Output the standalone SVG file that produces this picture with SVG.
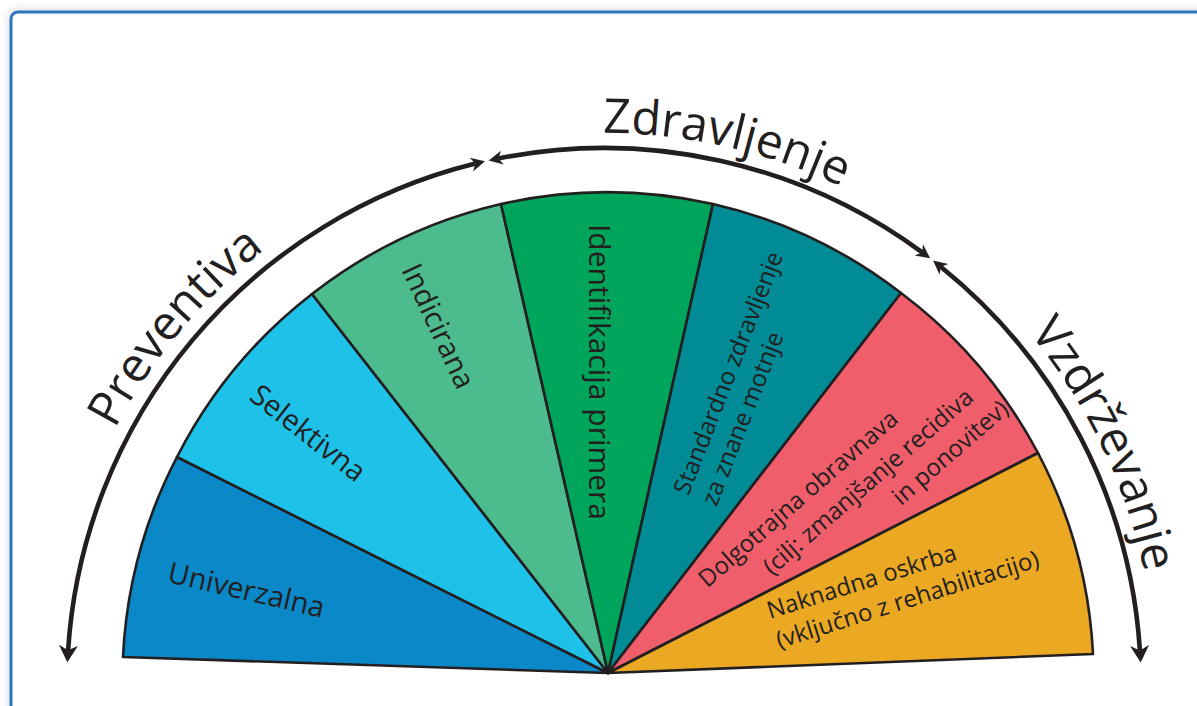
<svg xmlns="http://www.w3.org/2000/svg" width="1197" height="706" viewBox="0 0 1197 706">
  <defs>
    <style>
      .w { stroke: #231f20; stroke-width: 2.6; stroke-linejoin: round; }
      .lbl { font-family: "Open Sans", "Noto Sans", sans-serif; fill: #231f20; }
      .big { font-size: 29px; }
      .sm { font-size: 24px; }
      .phase { font-family: "Open Sans", "Noto Sans", sans-serif; font-size: 48px; fill: #231f20; }
      .arc { fill: none; stroke: #231f20; stroke-width: 4.6; }
    </style>
    <marker id="headEnd" markerUnits="userSpaceOnUse" orient="auto-start-reverse" refX="0" refY="0" markerWidth="40" markerHeight="40" overflow="visible">
      <path d="M-5,-9.5 L12,0 L-5,9.5 L0,0 Z" fill="#231f20"/>
    </marker>
    <marker id="headJ" markerUnits="userSpaceOnUse" orient="auto-start-reverse" refX="0" refY="0" markerWidth="40" markerHeight="40" overflow="visible">
      <path d="M-4.2,-7 L9.8,0 L-4.2,7 L0,0 Z" fill="#231f20"/>
    </marker>
    <filter id="sh" x="-5%" y="-5%" width="110%" height="110%">
      <feGaussianBlur stdDeviation="4"/>
    </filter>
    <path id="tp" d="M52,685 A552,552 0 0 1 1156,685"/>
  </defs>

  <rect x="0" y="0" width="1197" height="706" fill="#ffffff"/>
  <rect x="11" y="12" width="1220" height="740" rx="7" fill="none" stroke="#d9d9d9" stroke-width="6" filter="url(#sh)"/>
  <rect x="11" y="12" width="1220" height="740" rx="7" fill="#ffffff" stroke="#2e76bf" stroke-width="3"/>

  <g id="univerzalna">
    <path class="w" fill="#0a88c8" d="M608,673 L123,657 A484,484 0 0 1 177,457 Z"/>
    <text class="lbl big" x="244.2" y="599.8" text-anchor="middle" transform="rotate(13 244.2 599.8)">Univerzalna</text>
  </g>
  <g id="selektivna">
    <path class="w" fill="#1ec1e7" d="M608,673 L177,457 A484,484 0 0 1 312,294 Z"/>
    <text class="lbl big" x="302" y="441" text-anchor="middle" transform="rotate(38 302 441)">Selektivna</text>
  </g>
  <g id="indicirana">
    <path class="w" fill="#4cbb8e" d="M608,673 L312,294 A484,484 0 0 1 501,204 Z"/>
    <text class="lbl big" x="429.3" y="330.4" text-anchor="middle" transform="rotate(65 429.3 330.4)">Indicirana</text>
  </g>
  <g id="identifikacija">
    <path class="w" fill="#00a55c" d="M608,673 L501,204 A484,484 0 0 1 713,204 Z"/>
    <text class="lbl" font-size="30" x="589" y="372" text-anchor="middle" transform="rotate(90 589 372)">Identifikacija primera</text>
  </g>
  <g id="standardno">
    <path class="w" fill="#008b96" d="M608,673 L713,204 A484,484 0 0 1 901,293 Z"/>
    <g transform="translate(688.5,496.2) rotate(-68.5)">
      <text class="lbl sm" x="0" y="0">Standardno zdravljenje</text>
      <text class="lbl sm" x="0" y="30">za znane motnje</text>
    </g>
  </g>
  <g id="dolgotrajna">
    <path class="w" fill="#ef5e6a" d="M608,673 L901,293 A484,484 0 0 1 1038,453 Z"/>
    <text class="lbl sm" x="803.6" y="504.8" text-anchor="middle" transform="rotate(-41 803.6 504.8)">Dolgotrajna obravnava</text>
    <text class="lbl sm" x="873.6" y="487.8" text-anchor="middle" transform="rotate(-41 873.6 487.8)">(cilj: zmanjšanje recidiva</text>
    <text class="lbl sm" x="955.6" y="458.8" text-anchor="middle" transform="rotate(-41 955.6 458.8)">in ponovitev)</text>
  </g>
  <g id="naknadna">
    <path class="w" fill="#eaa823" d="M608,673 L1038,453 A484,484 0 0 1 1093,654 Z"/>
    <g transform="translate(770,619) rotate(-17.5)">
      <text class="lbl sm" x="0" y="0">Naknadna oskrba</text>
      <text class="lbl sm" x="0" y="31">(vključno z rehabilitacijo)</text>
    </g>
  </g>

  <g id="connectors">
    <path class="arc" d="M68.1,650.35 A537,537 0 0 1 475.45,163.6" marker-start="url(#headEnd)" marker-end="url(#headJ)"/>
    <path class="arc" d="M498.3,158.5 A537,537 0 0 1 922.2,252.4" marker-start="url(#headJ)" marker-end="url(#headJ)"/>
    <path class="arc" d="M940.7,266.7 A537,537 0 0 1 1139.9,650.5" marker-start="url(#headJ)" marker-end="url(#headEnd)"/>
  </g>

  <g id="phase-labels">
    <text class="phase"><textPath href="#tp" startOffset="266">Preventiva</textPath></text>
    <text class="phase"><textPath href="#tp" startOffset="866">Zdravljenje</textPath></text>
    <text class="phase"><textPath href="#tp" startOffset="1352">Vzdrževanje</textPath></text>
  </g>
</svg>
